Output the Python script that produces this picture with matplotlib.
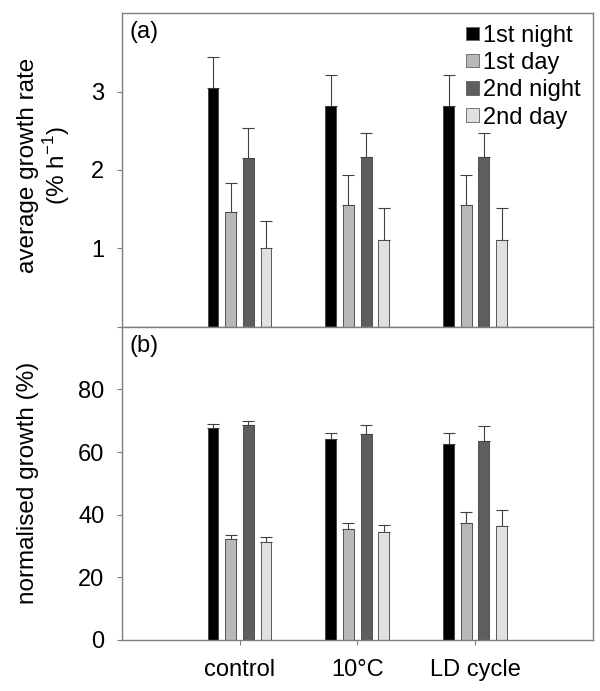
import matplotlib
matplotlib.use("Agg")
import matplotlib.pyplot as plt
import numpy as np

plt.rcParams['font.family'] = ['Liberation Sans', 'DejaVu Sans']

categories = ["control", "10°C", "LD cycle"]
series = ["1st night", "1st day", "2nd night", "2nd day"]
colors = ["#000000", "#b8b8b8", "#5e5e5e", "#e0e0e0"]

# panel (a): average growth rate (% h^-1)
rate = {
    "1st night": [3.05, 2.81, 2.81],
    "1st day":   [1.46, 1.55, 1.55],
    "2nd night": [2.15, 2.17, 2.17],
    "2nd day":   [1.00, 1.11, 1.11],
}
rate_err = {
    "1st night": [0.39, 0.40, 0.40],
    "1st day":   [0.37, 0.38, 0.38],
    "2nd night": [0.39, 0.30, 0.30],
    "2nd day":   [0.35, 0.41, 0.41],
}
# panel (b): normalised growth (%)
norm = {
    "1st night": [67.7, 64.3, 62.5],
    "1st day":   [32.1, 35.4, 37.4],
    "2nd night": [68.6, 65.7, 63.5],
    "2nd day":   [31.4, 34.3, 36.4],
}
norm_err = {
    "1st night": [1.4, 1.9, 3.7],
    "1st day":   [1.4, 2.0, 3.6],
    "2nd night": [1.4, 2.8, 4.9],
    "2nd day":   [1.5, 2.5, 5.1],
}

FS = 17
fig = plt.figure(figsize=(6, 6.91), dpi=100)
ax1 = fig.add_axes([0.203, 0.527, 0.785, 0.454])
ax2 = fig.add_axes([0.203, 0.074, 0.785, 0.453])

x = np.arange(1, len(categories) + 1)
offsets = [-0.225, -0.075, 0.075, 0.225]
width = 0.092
spine_col = "#7f7f7f"

def draw(ax, vals, errs):
    for s, off, c in zip(series, offsets, colors):
        ax.bar(x + off, vals[s], width, color=c, edgecolor="#404040",
               linewidth=0.6, label=s, zorder=2)
        ax.errorbar(x + off, vals[s], yerr=[np.zeros(len(x)), errs[s]],
                    fmt="none", ecolor="#404040", elinewidth=0.8,
                    capsize=4, capthick=0.8, zorder=1)
    ax.set_xlim(0, 4)
    for sp in ax.spines.values():
        sp.set_color(spine_col)
        sp.set_linewidth(1.0)
    ax.tick_params(axis="y", direction="out", length=3.5, color=spine_col,
                   labelsize=FS, pad=9)
    ax.tick_params(axis="x", direction="out", length=3.5, color=spine_col,
                   labelsize=FS, pad=10)

draw(ax1, rate, rate_err)
ax1.set_ylim(0, 4)
ax1.set_yticks([0, 1, 2, 3])
ax1.set_yticklabels(["", "1", "2", "3"])
ax1.set_xticks([])
ax1.set_ylabel("average growth rate\n(% h$^{\\mathregular{-1}}$)", fontsize=17.5,
               linespacing=1.1)
ax1.yaxis.set_label_coords(-0.106, 0.515)
ax1.text(0.017, 0.975, "(a)", transform=ax1.transAxes, fontsize=FS,
         va="top", ha="left")
leg = ax1.legend(loc="upper right", frameon=False, fontsize=FS,
                 handlelength=0.55, handleheight=0.5, handletextpad=0.2,
                 labelspacing=0.22, borderaxespad=0.1, borderpad=0.4)
for h in leg.legend_handles:
    h.set_edgecolor("#606060")

draw(ax2, norm, norm_err)
ax2.set_ylim(0, 100)
ax2.set_yticks([0, 20, 40, 60, 80])
ax2.set_xticks(x)
ax2.set_xticklabels(categories)
ax2.set_ylabel("normalised growth (%)", fontsize=17.5)
ax2.yaxis.set_label_coords(-0.175, 0.5)
ax2.text(0.017, 0.975, "(b)", transform=ax2.transAxes, fontsize=FS,
         va="top", ha="left")

fig.savefig("out.png", dpi=100)
